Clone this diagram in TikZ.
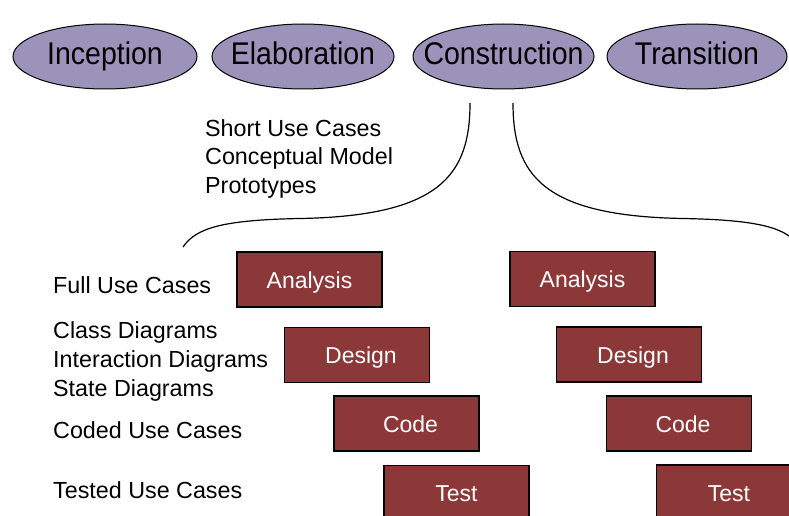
\documentclass[tikz,border=0pt]{standalone}
\usepackage{fontspec}
\setmainfont{Liberation Sans}
\usetikzlibrary{shapes.geometric}
\definecolor{phase}{RGB}{155,147,186}
\definecolor{act}{RGB}{140,56,56}
\tikzset{
  phasenode/.style={ellipse, draw=black, line width=1pt, fill=phase, inner sep=0pt,
    minimum width=182pt, minimum height=65pt},
  phasetext/.style={anchor=base, inner sep=0pt, font=\fontsize{28.5}{30}\selectfont},
  actbox/.style={rectangle, draw=black, line width=1.5pt, fill=act, text=white, inner sep=0pt,
    minimum width=145pt, minimum height=55pt, text height=17pt, text depth=0pt,
    font=\fontsize{23}{28}\selectfont},
  lbl/.style={anchor=base west, inner sep=0pt, font=\fontsize{23.3}{29}\selectfont},
  curve/.style={draw=black, line width=1.2pt}
}
\newcommand{\tallish}[1]{\scalebox{1}[1.1]{#1}}
\newcommand{\nudged}[1]{\hspace*{8pt}#1}
\begin{document}
\begin{tikzpicture}[x=1pt,y=-1pt]
\useasboundingbox (0,0) rectangle (789,516);
\clip (0,0) rectangle (789,516);
% phases
\node[phasenode, minimum width=184pt] (inc) at (105,56.5) {};
\node[phasenode] (ela) at (303,56.5) {};
\node[phasenode, minimum width=181pt] (con) at (503.5,56.5) {};
\node[phasenode, minimum width=180pt] (tra) at (697,56.5) {};
\node[phasetext] (inct) at (105,65) {\tallish{Inception}};
\node[phasetext] (elat) at (303,65) {\tallish{Elaboration}};
\node[phasetext] (cont) at (503.5,65) {\tallish{Construction}};
\node[phasetext] (trat) at (697,65) {\tallish{Transition}};
% curves
\coordinate (l0) at (470,103);
\coordinate (l1) at (300,218.5);
\coordinate (l2) at (183,247);
\coordinate (r0) at (513,103);
\coordinate (r1) at (683,218.5);
\coordinate (r2) at (800,247);
\draw[curve] (l0) .. controls (470,175) and (440,216) .. (l1) .. controls (222,220) and (196,228) .. (l2);
\draw[curve] (r0) .. controls (513,175) and (543,216) .. (r1) .. controls (761,220) and (787,228) .. (r2);
% elaboration artifacts
\node[lbl] (s1) at (205,136) {Short Use Cases};
\node[lbl] (s2) at (205,164.5) {Conceptual Model};
\node[lbl] (s3) at (205,193) {Prototypes};
% left labels
\node[lbl] (f1) at (53,293) {Full Use Cases};
\node[lbl] (c1) at (53,338) {Class Diagrams};
\node[lbl] (c2) at (53,367) {Interaction Diagrams};
\node[lbl] (c3) at (53,396) {State Diagrams};
\node[lbl] (c4) at (53,438.5) {Coded Use Cases};
\node[lbl] (c5) at (53,498.5) {Tested Use Cases};
% activity boxes, first iteration
\node[actbox] (a1) at (309.5,279.5) {Analysis};
\node[actbox] (d1) at (357,355) {\nudged{Design}};
\node[actbox] (k1) at (406.5,423.5) {\nudged{Code}};
\node[actbox] (t1) at (456.5,493) {Test};
% second iteration
\node[actbox] (a2) at (582.5,279) {Analysis};
\node[actbox] (d2) at (629,354.5) {\nudged{Design}};
\node[actbox] (k2) at (679,423.5) {\nudged{Code}};
\node[actbox] (t2) at (729,492.5) {Test};
\end{tikzpicture}
\end{document}
